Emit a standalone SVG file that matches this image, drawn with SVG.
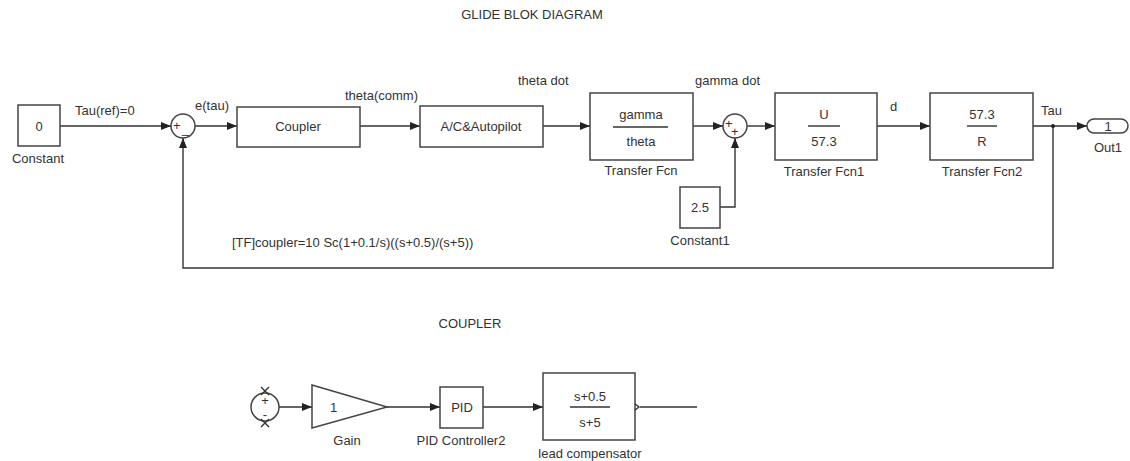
<svg xmlns="http://www.w3.org/2000/svg" width="1130" height="461" viewBox="0 0 1130 461">
<defs>
<style>
text{font-family:"Liberation Sans",Arial,sans-serif;font-size:13px;fill:#333}
.m{text-anchor:middle}
.b{fill:#fff;stroke:#444;stroke-width:1.5}
.w{fill:none;stroke:#333;stroke-width:1.4}
</style>
<marker id="ar" markerWidth="10" markerHeight="8" refX="10" refY="4" orient="auto" markerUnits="userSpaceOnUse">
<path d="M0,0 L10,4 L0,8 Z" fill="#222"/>
</marker>
</defs>
<rect width="1130" height="461" fill="#fff"/>
<text class="m" x="532" y="19">GLIDE BLOK DIAGRAM</text>

<g id="connectors">
<path class="w" d="M60,126 H171" marker-end="url(#ar)"/>
<path class="w" d="M195,126 H237" marker-end="url(#ar)"/>
<path class="w" d="M360,126 H420" marker-end="url(#ar)"/>
<path class="w" d="M543,126 H590" marker-end="url(#ar)"/>
<path class="w" d="M693,126 H723" marker-end="url(#ar)"/>
<path class="w" d="M720,207 H735 V138" marker-end="url(#ar)"/>
<path class="w" d="M747,126 H775" marker-end="url(#ar)"/>
<path class="w" d="M877,126 H930" marker-end="url(#ar)"/>
<path class="w" d="M1033,126 H1087" marker-end="url(#ar)"/>
<path class="w" d="M1053,126 V268 H183 V138" marker-end="url(#ar)"/>
<circle cx="1053" cy="126" r="2" fill="#222"/>
<path class="w" d="M279,407 H312" marker-end="url(#ar)"/>
<path class="w" d="M387,407 H440" marker-end="url(#ar)"/>
<path class="w" d="M483,407 H543" marker-end="url(#ar)"/>
<path class="w" d="M640,407 H697"/>
</g>

<g id="constant">
<rect class="b" x="18" y="105" width="42" height="41"/>
<text class="m" x="39" y="131">0</text>
<text class="m" x="38" y="163">Constant</text>
</g>
<text x="75" y="115">Tau(ref)=0</text>

<g id="sum1">
<circle class="b" cx="183" cy="126" r="12"/>
<text x="173" y="130">+</text>
<text x="182" y="133">_</text>
</g>
<text x="195" y="110">e(tau)</text>

<g id="coupler">
<rect class="b" x="237" y="107" width="123" height="40"/>
<text class="m" x="298" y="131">Coupler</text>
</g>
<text x="345" y="100">theta(comm)</text>

<g id="autopilot">
<rect class="b" x="420" y="106" width="123" height="41"/>
<text class="m" x="481" y="131">A/C&amp;Autopilot</text>
</g>
<text x="518" y="85">theta dot</text>

<g id="tf">
<rect class="b" x="590" y="93" width="103" height="67"/>
<text class="m" x="641" y="119">gamma</text>
<path class="w" d="M613,127 H668"/>
<text class="m" x="641" y="146">theta</text>
<text class="m" x="641" y="175">Transfer Fcn</text>
</g>
<text x="695" y="85">gamma dot</text>

<g id="sum2">
<circle class="b" cx="735" cy="126" r="12"/>
<text x="725" y="128">+</text>
<text x="731" y="136">+</text>
</g>

<g id="constant1">
<rect class="b" x="680" y="187" width="40" height="41"/>
<text class="m" x="700" y="212">2.5</text>
<text class="m" x="700" y="245">Constant1</text>
</g>

<g id="tf1">
<rect class="b" x="775" y="93" width="102" height="67"/>
<text class="m" x="824" y="119">U</text>
<path class="w" d="M808,126 H840"/>
<text class="m" x="824" y="146">57.3</text>
<text class="m" x="824" y="176">Transfer Fcn1</text>
</g>
<text x="890" y="111">d</text>

<g id="tf2">
<rect class="b" x="930" y="93" width="103" height="67"/>
<text class="m" x="982" y="119">57.3</text>
<path class="w" d="M967,126 H997"/>
<text class="m" x="982" y="146">R</text>
<text class="m" x="982" y="176">Transfer Fcn2</text>
</g>
<text x="1041" y="115">Tau</text>

<g id="out1">
<rect class="b" x="1087" y="119" width="41" height="14" rx="7"/>
<text class="m" x="1108" y="131">1</text>
<text class="m" x="1108" y="152">Out1</text>
</g>

<text x="232" y="247">[TF]coupler=10 Sc(1+0.1/s)((s+0.5)/(s+5))</text>

<text class="m" x="470" y="328">COUPLER</text>

<g id="sum3">
<circle class="b" cx="265" cy="407" r="14"/>
<text class="m" x="265" y="405">+</text>
<text class="m" x="265" y="419">-</text>
<path class="w" d="M261,387 L269,395 M269,387 L261,395 M261,419 L269,427 M269,419 L261,427" stroke-width="1"/>
</g>

<g id="gain">
<path class="b" d="M312,385 L387,407 L312,428 Z"/>
<text x="330" y="412">1</text>
<text class="m" x="347" y="445">Gain</text>
</g>

<g id="pid">
<rect class="b" x="440" y="387" width="43" height="41"/>
<text class="m" x="462" y="412">PID</text>
<text class="m" x="461" y="445">PID Controller2</text>
</g>

<g id="lead">
<rect class="b" x="543" y="373" width="92" height="67"/>
<text class="m" x="590" y="401">s+0.5</text>
<path class="w" d="M570,407 H610"/>
<text class="m" x="590" y="427">s+5</text>
<path class="w" d="M635,404 L639,407 L635,410" stroke-width="1"/>
<text class="m" x="590" y="458">lead compensator</text>
</g>
</svg>
